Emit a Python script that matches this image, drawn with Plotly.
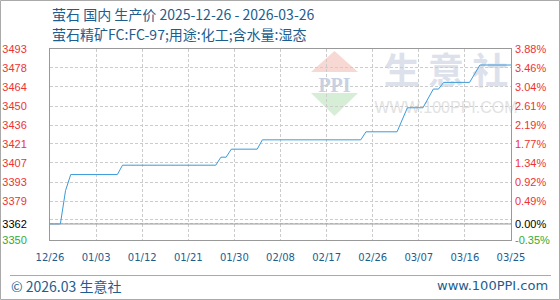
import datetime as dt
import plotly.graph_objects as go

# ---------------- data ----------------
dates = ["2025-12-26", "2025-12-28", "2025-12-29", "2025-12-30", "2026-01-08", "2026-01-09",
         "2026-01-27", "2026-01-28", "2026-01-29", "2026-01-30", "2026-02-04", "2026-02-05",
         "2026-02-24", "2026-02-25", "2026-03-03", "2026-03-04", "2026-03-05", "2026-03-08",
         "2026-03-09", "2026-03-10", "2026-03-11", "2026-03-12", "2026-03-17", "2026-03-18",
         "2026-03-19", "2026-03-26"]
prices = [3362, 3362, 3387, 3399, 3399, 3406,
          3406, 3412, 3412, 3418, 3418, 3425,
          3425, 3431, 3431, 3440, 3449, 3449,
          3456, 3463, 3463, 3468, 3468, 3474,
          3481, 3481]

base_price = 3362
y_min, y_max = 3350, 3493
x_tick_labels = ["12/26", "01/03", "01/12", "01/21", "01/30", "02/08",
                 "02/17", "02/26", "03/07", "03/16", "03/25"]
x_start, x_end = "2025-12-26", "2026-03-25"
y_tick_vals = [3350, 3362, 3365, 3379.2, 3393.4, 3407.7, 3421.9, 3436.1, 3450.3, 3464.6, 3478.8, 3493]
y_tick_left = ["3350", "3362", "", "3379", "3393", "3407", "3421", "3436", "3450", "3464", "3478", "3493"]
y_tick_right = ["-0.35%", "0.00%", "", "0.49%", "0.92%", "1.34%", "1.77%", "2.19%", "2.61%",
                "3.04%", "3.46%", "3.88%"]

title_text = "萤石 国内 生产价 2025-12-26 - 2026-03-26"
subtitle_text = "萤石精矿FC:FC-97;用途:化工;含水量:湿态"
footer_left = "© 2026.03 生意社"
footer_right = "www.100PPI.com"

# ---------------- layout helpers ----------------
W, H = 560, 300
L, R, T, B = 50, 49, 49, 60
PW, PH = W - L - R, H - T - B


def px(x):
    return (x - L) / PW


def py(y):
    return (H - B - y) / PH


RED, BLACK, GREEN = "#ee3333", "#000000", "#33aa33"
BLUE_TXT = "#1b5e8f"


def colored(texts, vals):
    out = []
    for t, v in zip(texts, vals):
        c = BLACK if v == base_price else (GREEN if v < base_price else RED)
        out.append(f'<span style="color:{c}">{t}</span>')
    return out


d0 = dt.datetime.fromisoformat(x_start)
d1 = dt.datetime.fromisoformat(x_end)
span = (d1 - d0) / (len(x_tick_labels) - 1)
x_tick_vals = [(d0 + span * i).strftime("%Y-%m-%d %H:%M:%S") for i in range(len(x_tick_labels))]

fig = go.Figure()
fig.add_trace(go.Scatter(x=dates, y=prices, mode="lines",
                         line=dict(color="#3b9ad8", width=1), hoverinfo="skip", showlegend=False))
fig.add_trace(go.Scatter(x=dates, y=prices, mode="lines", yaxis="y2", opacity=0,
                         line=dict(width=0), hoverinfo="skip", showlegend=False))

grid = dict(showgrid=True, gridcolor="#cccccc", griddash="3px,2px", gridwidth=1,
            showline=True, linecolor="#999999", linewidth=1, zeroline=False, ticks="",
            automargin=False)

fig.update_layout(
    width=W, height=H, margin=dict(l=L, r=R, t=T, b=B, pad=0, autoexpand=False),
    paper_bgcolor="white", plot_bgcolor="white",
    xaxis=dict(type="date", range=[x_start, x_end], tickmode="array",
               tickvals=x_tick_vals, ticktext=x_tick_labels, mirror=True, tickangle=0,
               tickfont=dict(family="DejaVu Sans", size=10, color=BLUE_TXT),
               ticklabelstandoff=8, **grid),
    yaxis=dict(range=[y_min, y_max], tickmode="array", tickvals=y_tick_vals,
               ticktext=colored(y_tick_left, y_tick_vals), mirror=True,
               tickfont=dict(family="Liberation Sans", size=11, color=RED),
               ticklabelstandoff=20, **grid),
    yaxis2=dict(range=[y_min, y_max], overlaying="y", side="right", tickmode="array",
                tickvals=y_tick_vals, ticktext=colored(y_tick_right, y_tick_vals),
                showgrid=False, showline=False, zeroline=False, ticks="", automargin=False,
                tickfont=dict(family="Liberation Sans", size=11, color=RED),
                ticklabelstandoff=3),
    showlegend=False,
)

shapes = []
# watermark logo
shapes.append(dict(type="path", xref="paper", yref="paper", layer="below",
                   path=f"M {px(311)},{py(72)} L {px(358)},{py(72)} L {px(334.5)},{py(51)} Z",
                   fillcolor="#f8d8d2", line=dict(width=0)))
shapes.append(dict(type="path", xref="paper", yref="paper", layer="below",
                   path=f"M {px(311)},{py(93)} L {px(358)},{py(93)} L {px(334.5)},{py(116)} Z",
                   fillcolor="#d6eed6", line=dict(width=0)))
shapes.append(dict(type="rect", xref="paper", yref="paper", layer="below",
                   x0=px(306), x1=px(363), y0=py(92), y1=py(74), line=dict(width=0),
                   label=dict(text="<b>PPI</b>", font=dict(family="Liberation Serif", size=20, color="#c8d1e4"),
                              textposition="middle center")))
shapes.append(dict(type="rect", xref="paper", yref="paper", layer="below",
                   x0=px(380), x1=px(512), y0=py(95), y1=py(52), line=dict(width=0),
                   label=dict(text="<b>生 意 社</b>", font=dict(family="Noto Sans CJK SC", size=36, color="#dde1eb"),
                              textposition="middle center")))
shapes.append(dict(type="rect", xref="paper", yref="paper", layer="below",
                   x0=px(380), x1=px(512), y0=py(114), y1=py(97), line=dict(width=0),
                   label=dict(text="WWW.100PPI.COM", font=dict(family="Liberation Sans", size=16, color="#e2e2e2"),
                              textposition="middle center")))
# base price line
shapes.append(dict(type="line", xref="paper", yref="y", x0=0, x1=1, y0=base_price, y1=base_price,
                   line=dict(color="#999999", width=1)))
# footer separator
shapes.append(dict(type="line", xref="paper", yref="paper", x0=px(10), x1=px(551), y0=py(275.5), y1=py(275.5),
                   line=dict(color="#aaaaaa", width=1)))
# outer border
shapes.append(dict(type="rect", xref="paper", yref="paper", x0=px(0.5), x1=px(559.5), y0=py(299.5), y1=py(0.5),
                   line=dict(color="#aaaaaa", width=1)))
fig.update_layout(shapes=shapes)

ann = [
    dict(text=title_text, x=px(50), y=py(14), xanchor="left", yanchor="middle",
         font=dict(family="Noto Sans CJK SC", size=14, color=BLUE_TXT)),
    dict(text=subtitle_text, x=px(50), y=py(34), xanchor="left", yanchor="middle",
         font=dict(family="Noto Sans CJK SC", size=14, color=BLUE_TXT)),
    dict(text=footer_left, x=px(9), y=py(285.5), xanchor="left", yanchor="middle",
         font=dict(family="Noto Sans CJK SC", size=14, color=BLUE_TXT)),
    dict(text=footer_right, x=px(550), y=py(285.5), xanchor="right", yanchor="middle",
         font=dict(family="DejaVu Sans", size=13, color=BLUE_TXT)),
]
for a in ann:
    a.update(xref="paper", yref="paper", showarrow=False)
fig.update_layout(annotations=ann)

fig.write_html("out.html", config={"displayModeBar": False})
